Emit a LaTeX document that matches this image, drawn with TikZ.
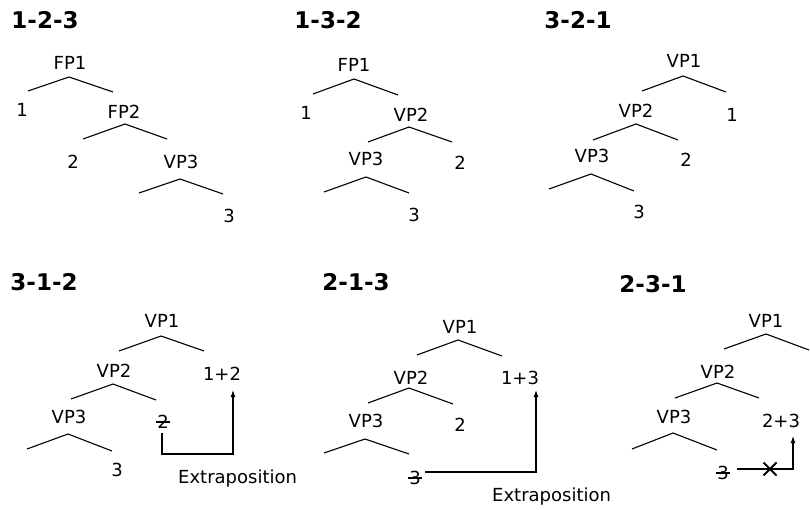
\documentclass[tikz,border=0pt]{standalone}
\usepackage{fontspec}
\setmainfont{DejaVu Sans}
\usetikzlibrary{arrows.meta}
\begin{document}
\begin{tikzpicture}[x=1pt,y=-1pt,
 lbl/.style={inner sep=0pt, font=\fontsize{18}{21}\selectfont},
 head/.style={inner sep=0pt, font=\fontsize{23}{27}\selectfont\bfseries},
 branch/.style={line width=1.1pt},
 arr/.style={line width=1.1pt, -{Latex[length=7pt,width=5pt]}},
 strike/.style={line width=1.1pt}]
\useasboundingbox (0,0) rectangle (810,510);

% ---------- Panel 1: 1-2-3
\node[head] (h1) at (45,20) {1-2-3};
\node[lbl] (a1) at (70,63) {FP1};
\coordinate (a1t) at (69,77); \coordinate (a1l) at (28,91); \coordinate (a1r) at (113,92);
\draw[branch] (a1l) -- (a1t) -- (a1r);
\node[lbl] (a1n) at (22,110) {1};
\node[lbl] (a2) at (124,112) {FP2};
\coordinate (a2t) at (125,124); \coordinate (a2l) at (83,139); \coordinate (a2r) at (167,139);
\draw[branch] (a2l) -- (a2t) -- (a2r);
\node[lbl] (a2n) at (73,162) {2};
\node[lbl] (a3) at (181,162) {VP3};
\coordinate (a3t) at (180,179); \coordinate (a3l) at (139,193); \coordinate (a3r) at (223,194);
\draw[branch] (a3l) -- (a3t) -- (a3r);
\node[lbl] (a3n) at (229,216) {3};

% ---------- Panel 2: 1-3-2
\node[head] (h2) at (328,20) {1-3-2};
\node[lbl] (b1) at (354,65) {FP1};
\coordinate (b1t) at (354,79); \coordinate (b1l) at (313,94); \coordinate (b1r) at (398,95);
\draw[branch] (b1l) -- (b1t) -- (b1r);
\node[lbl] (b1n) at (306,113) {1};
\node[lbl] (b2) at (411,115) {VP2};
\coordinate (b2t) at (409,127); \coordinate (b2l) at (368,142); \coordinate (b2r) at (452,142);
\draw[branch] (b2l) -- (b2t) -- (b2r);
\node[lbl] (b2n) at (460,163) {2};
\node[lbl] (b3) at (366,159) {VP3};
\coordinate (b3t) at (366,177); \coordinate (b3l) at (324,192); \coordinate (b3r) at (409,193);
\draw[branch] (b3l) -- (b3t) -- (b3r);
\node[lbl] (b3n) at (414,215) {3};

% ---------- Panel 3: 3-2-1
\node[head] (h3) at (578,20) {3-2-1};
\node[lbl] (c1) at (684,61) {VP1};
\coordinate (c1t) at (683,76); \coordinate (c1l) at (642,91); \coordinate (c1r) at (726,92);
\draw[branch] (c1l) -- (c1t) -- (c1r);
\node[lbl] (c1n) at (732,115) {1};
\node[lbl] (c2) at (636,111) {VP2};
\coordinate (c2t) at (636,124); \coordinate (c2l) at (593,140); \coordinate (c2r) at (678,140);
\draw[branch] (c2l) -- (c2t) -- (c2r);
\node[lbl] (c2n) at (686,160) {2};
\node[lbl] (c3) at (592,156) {VP3};
\coordinate (c3t) at (591,174); \coordinate (c3l) at (549,189); \coordinate (c3r) at (634,191);
\draw[branch] (c3l) -- (c3t) -- (c3r);
\node[lbl] (c3n) at (639,212) {3};

% ---------- Panel 4: 3-1-2
\node[head] (h4) at (44,282) {3-1-2};
\node[lbl] (d1) at (162,321) {VP1};
\coordinate (d1t) at (161,336); \coordinate (d1l) at (119,351); \coordinate (d1r) at (204,351);
\draw[branch] (d1l) -- (d1t) -- (d1r);
\node[lbl] (d1n) at (222,374) {1+2};
\node[lbl] (d2) at (114,371) {VP2};
\coordinate (d2t) at (113,384); \coordinate (d2l) at (71,399); \coordinate (d2r) at (156,400);
\draw[branch] (d2l) -- (d2t) -- (d2r);
\node[lbl] (d2n) at (163,422) {2};
\draw[strike] ([xshift=-1pt]d2n.west) -- ([xshift=1pt]d2n.east);
\node[lbl] (d3) at (69,417) {VP3};
\coordinate (d3t) at (68,434); \coordinate (d3l) at (27,449); \coordinate (d3r) at (112,451);
\draw[branch] (d3l) -- (d3t) -- (d3r);
\node[lbl] (d3n) at (117,470) {3};
\coordinate (d4s) at (162,433); \coordinate (d4c) at (162,454); \coordinate (d4e) at (233,390);
\draw[arr] (d4s) -- (d4c) -| (d4e);
\node[lbl, anchor=base west] (d5) at (178,483) {Extraposition};

% ---------- Panel 5: 2-1-3
\node[head] (h5) at (356,282) {2-1-3};
\node[lbl] (e1) at (460,327) {VP1};
\coordinate (e1t) at (458,340); \coordinate (e1l) at (417,355); \coordinate (e1r) at (502,356);
\draw[branch] (e1l) -- (e1t) -- (e1r);
\node[lbl] (e1n) at (520,378) {1+3};
\node[lbl] (e2) at (411,378) {VP2};
\coordinate (e2t) at (409,388); \coordinate (e2l) at (368,403); \coordinate (e2r) at (453,404);
\draw[branch] (e2l) -- (e2t) -- (e2r);
\node[lbl] (e2n) at (460,425) {2};
\node[lbl] (e3) at (366,421) {VP3};
\coordinate (e3t) at (365,439); \coordinate (e3l) at (324,453); \coordinate (e3r) at (409,454);
\draw[branch] (e3l) -- (e3t) -- (e3r);
\node[lbl] (e3n) at (415,478) {3};
\draw[strike] ([xshift=-1pt]e3n.west) -- ([xshift=1pt]e3n.east);
\coordinate (e4s) at (425,472); \coordinate (e4e) at (536,390);
\draw[arr] (e4s) -| (e4e);
\node[lbl, anchor=base west] (e5) at (492,501) {Extraposition};

% ---------- Panel 6: 2-3-1
\node[head] (h6) at (653,284) {2-3-1};
\node[lbl] (f1) at (766,321) {VP1};
\coordinate (f1t) at (766,334); \coordinate (f1l) at (724,349); \coordinate (f1r) at (809,350);
\draw[branch] (f1l) -- (f1t) -- (f1r);
\node[lbl] (f2) at (718,372) {VP2};
\coordinate (f2t) at (717,383); \coordinate (f2l) at (675,398); \coordinate (f2r) at (759,398);
\draw[branch] (f2l) -- (f2t) -- (f2r);
\node[lbl] (f2n) at (781,421) {2+3};
\node[lbl] (f3) at (674,417) {VP3};
\coordinate (f3t) at (673,433); \coordinate (f3l) at (632,449); \coordinate (f3r) at (717,450);
\draw[branch] (f3l) -- (f3t) -- (f3r);
\node[lbl] (f3n) at (723,473) {3};
\draw[strike] ([xshift=-1pt]f3n.west) -- ([xshift=1pt]f3n.east);
\coordinate (f4s) at (737,469); \coordinate (f4e) at (793,436);
\draw[arr] (f4s) -| (f4e);
\coordinate (fx) at (770,469);
\draw[line width=1.8pt] ([shift={(-6.5,-6.5)}]fx) -- ([shift={(6.5,6.5)}]fx)
                        ([shift={(-6.5,6.5)}]fx) -- ([shift={(6.5,-6.5)}]fx);
\end{tikzpicture}
\end{document}
